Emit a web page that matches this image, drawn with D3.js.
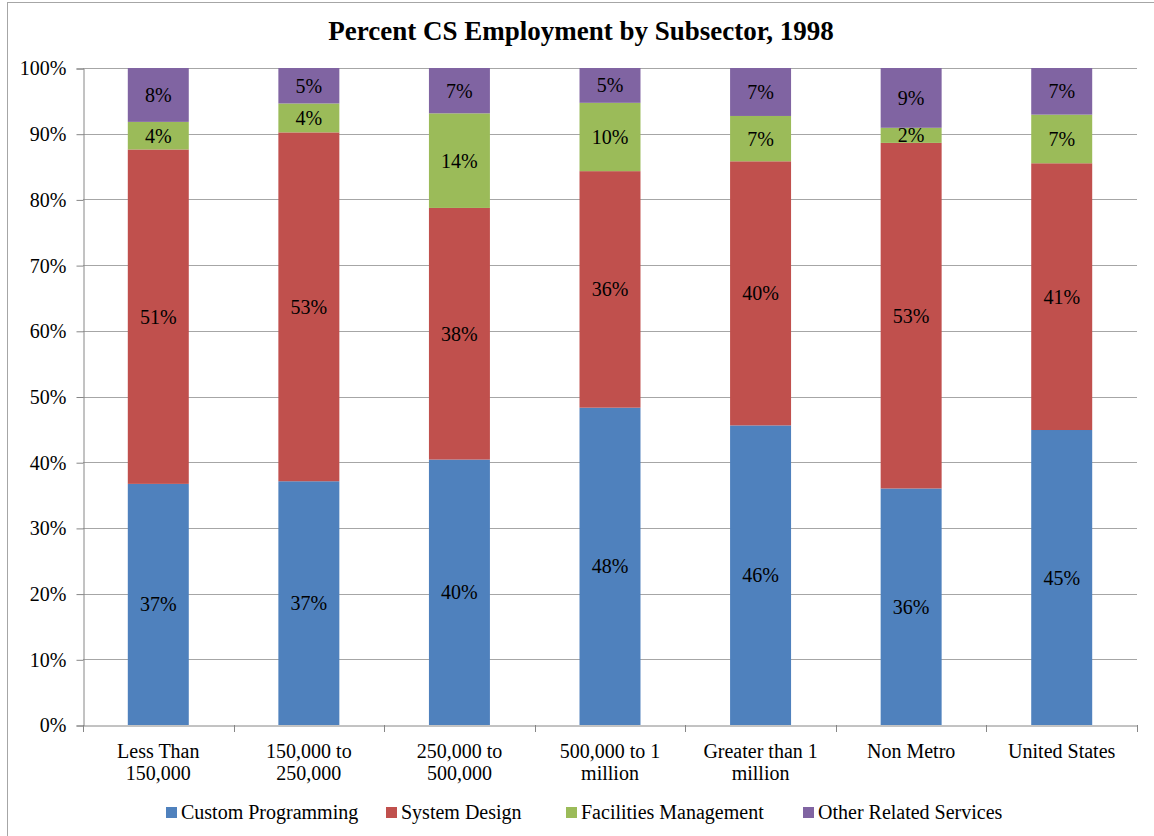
<!DOCTYPE html>
<html>
<head>
<meta charset="utf-8">
<script src="https://cdn.jsdelivr.net/npm/d3@7"></script>
<style>
  html, body { margin: 0; padding: 0; background: #fff; }
  svg { display: block; }
  text { font-family: "Liberation Serif", "Times New Roman", serif; fill: #000; }
</style>
</head>
<body>
<svg id="chart" width="1154" height="836"></svg>
<script>
const categories = [
  ["Less Than", "150,000"],
  ["150,000 to", "250,000"],
  ["250,000 to", "500,000"],
  ["500,000 to 1", "million"],
  ["Greater than 1", "million"],
  ["Non Metro"],
  ["United States"]
];
const seriesNames = ["Custom Programming", "System Design", "Facilities Management", "Other Related Services"];
const customProgramming   = [36.7, 37.1, 40.4, 48.3, 45.6, 36.0, 44.9];
const systemDesign        = [50.9, 53.1, 38.3, 36.0, 40.2, 52.6, 40.6];
const facilitiesMgmt      = [4.2, 4.4, 14.4, 10.4, 6.9, 2.3, 7.4];
const otherServices       = [8.2, 5.4, 6.9, 5.3, 7.3, 9.1, 7.1];
const yTicks = [0, 10, 20, 30, 40, 50, 60, 70, 80, 90, 100];
const colors = ["#4F81BD", "#C0504D", "#9BBB59", "#8064A2"];

const svg = d3.select("#chart");
const pLeft = 83, pRight = 1137, pTop = 68, pBottom = 725;
const fs = "20px";

// chart border
svg.append("rect").attr("x", 7.5).attr("y", 2.5).attr("width", 1160).attr("height", 850)
  .attr("fill", "none").attr("stroke", "#a6a6a6").attr("stroke-width", 1);

// title
svg.append("text").attr("x", 581).attr("y", 40).attr("text-anchor", "middle")
  .style("font-size", "27px").style("font-weight", "bold")
  .text("Percent CS Employment by Subsector, 1998");

const keys = categories.map((c, i) => i);
const x = d3.scaleBand().domain(keys).range([pLeft, pRight]).paddingInner(0).paddingOuter(0);
const y = d3.scaleLinear().domain([0, 100]).range([pBottom, pTop]);

// gridlines
svg.append("g").selectAll("line").data(yTicks.filter(t => t > 0)).join("line")
  .attr("x1", pLeft).attr("x2", pRight)
  .attr("y1", d => Math.round(y(d)) + 0.5).attr("y2", d => Math.round(y(d)) + 0.5)
  .attr("stroke", "#a6a6a6").attr("stroke-width", 1);

// y axis
const yAxis = d3.axisLeft(y).tickValues(yTicks).tickFormat(d => d + "%").tickSize(7).tickPadding(10);
const gy = svg.append("g").attr("transform", `translate(${pLeft + 0.5},0.5)`).call(yAxis);
gy.attr("font-family", null).attr("font-size", null);
gy.select(".domain").attr("stroke", "#868686");
gy.selectAll(".tick line").attr("stroke", "#868686");
gy.selectAll(".tick text").style("font-size", fs).attr("fill", "#000");

// stacked data
const table = categories.map((c, i) => ({
  i,
  [seriesNames[0]]: customProgramming[i],
  [seriesNames[1]]: systemDesign[i],
  [seriesNames[2]]: facilitiesMgmt[i],
  [seriesNames[3]]: otherServices[i]
}));
const stack = d3.stack().keys(seriesNames)(table);

const barW = x.bandwidth() * 0.405;
const layers = svg.append("g").selectAll("g").data(stack).join("g")
  .attr("fill", (d, k) => colors[k]);
layers.selectAll("rect").data(d => d).join("rect")
  .attr("x", d => x(d.data.i) + (x.bandwidth() - barW) / 2)
  .attr("width", barW)
  .attr("y", d => y(d[1]))
  .attr("height", d => y(d[0]) - y(d[1]));

// data labels
layers.selectAll("text").data(d => d).join("text")
  .attr("x", d => x(d.data.i) + x.bandwidth() / 2)
  .attr("y", d => (y(d[0]) + y(d[1])) / 2 + 7)
  .attr("text-anchor", "middle")
  .style("font-size", fs)
  .attr("fill", "#000")
  .text(d => Math.round(d[1] - d[0]) + "%");

// x axis
const xAxis = d3.axisBottom(x).tickSize(0).tickFormat("");
const gx = svg.append("g").attr("transform", `translate(0,${pBottom + 0.5})`).call(xAxis);
gx.select(".domain").attr("stroke", "#868686");
// category boundary ticks
svg.append("g").selectAll("line").data(d3.range(categories.length + 1)).join("line")
  .attr("x1", d => Math.round(pLeft + d * x.step()) + 0.5)
  .attr("x2", d => Math.round(pLeft + d * x.step()) + 0.5)
  .attr("y1", pBottom).attr("y2", pBottom + 7)
  .attr("stroke", "#868686");

// x labels
const xl = svg.append("g").selectAll("text").data(categories).join("text")
  .attr("text-anchor", "middle")
  .style("font-size", fs)
  .attr("transform", (d, i) => `translate(${x(i) + x.bandwidth() / 2},758)`);
xl.selectAll("tspan").data(d => d).join("tspan")
  .attr("x", 0).attr("dy", (d, j) => j === 0 ? 0 : 22)
  .text(d => d);

// legend
const legendX = [166, 386, 566, 803];
const lg = svg.append("g").selectAll("g").data(seriesNames).join("g")
  .attr("transform", (d, k) => `translate(${legendX[k]},807)`);
lg.append("rect").attr("width", 11).attr("height", 11).attr("fill", (d, k) => colors[k]);
lg.append("text").attr("x", 15).attr("y", 12).style("font-size", fs).text(d => d);
</script>
</body>
</html>
